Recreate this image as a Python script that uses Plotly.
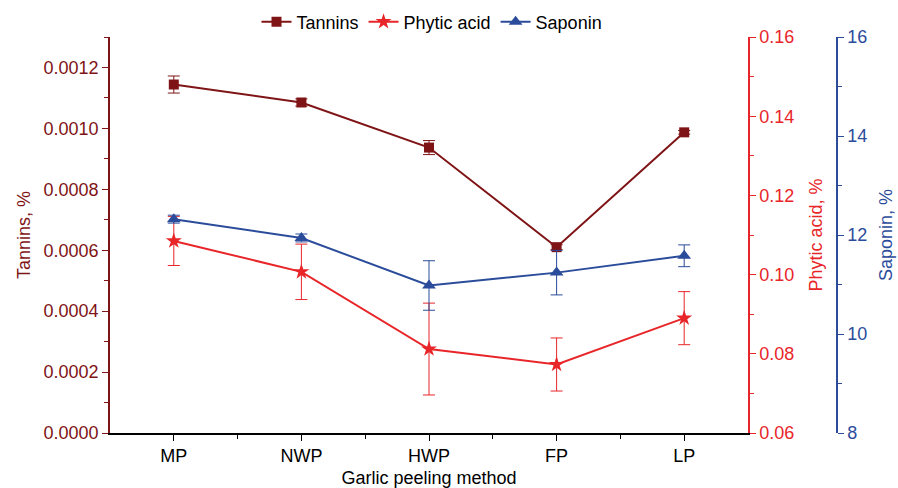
import plotly.graph_objects as go

# Peeling methods and measured contents (mean ± error)
methods = ["MP", "NWP", "HWP", "FP", "LP"]

tannins = [0.001144, 0.001085, 0.000937, 0.000610, 0.000987]
tannins_err = [0.000028, 0.000012, 0.000023, 0.000008, 0.000006]

phytic = [0.1085, 0.1007, 0.0812, 0.0773, 0.0890]
phytic_err = [0.0062, 0.0070, 0.0116, 0.0067, 0.0067]

saponin = [12.32, 11.94, 10.98, 11.24, 11.58]
saponin_err = [0.08, 0.08, 0.50, 0.45, 0.22]

C_TAN = "#7f1416"
C_PHY = "#e8262a"
C_SAP = "#2b4c9b"
FONT = "Liberation Sans, Arial, sans-serif"
FS = 18

x = list(range(len(methods)))

fig = go.Figure()
fig.add_trace(go.Scatter(
    x=x, y=tannins, name="Tannins", mode="lines+markers",
    line=dict(color=C_TAN, width=2),
    marker=dict(symbol="square", size=10, color=C_TAN),
    error_y=dict(type="data", array=tannins_err, color=C_TAN, thickness=1, width=6),
    yaxis="y",
))
fig.add_trace(go.Scatter(
    x=x, y=phytic, name="Phytic acid", mode="lines+markers",
    line=dict(color=C_PHY, width=2),
    marker=dict(symbol="star", size=12, color=C_PHY),
    error_y=dict(type="data", array=phytic_err, color=C_PHY, thickness=1, width=6),
    yaxis="y2",
))
fig.add_trace(go.Scatter(
    x=x, y=saponin, name="Saponin", mode="lines+markers",
    line=dict(color=C_SAP, width=2),
    marker=dict(symbol="triangle-up", size=12, color=C_SAP),
    error_y=dict(type="data", array=saponin_err, color=C_SAP, thickness=1, width=6),
    yaxis="y3",
))

W, H = 898, 488
L, R, T, B = 110, 58, 37, 55
plot_w = W - L - R
x_right = (748 - L) / plot_w
sap_pos = (837 - L) / plot_w

fig.update_layout(
    width=W, height=H,
    margin=dict(l=L, r=R, t=T, b=B, autoexpand=False),
    paper_bgcolor="white", plot_bgcolor="white",
    font=dict(family=FONT, size=FS, color="black"),
    showlegend=True,
    legend=dict(orientation="h", xref="container", yref="container",
                x=432 / W, xanchor="center", y=1 - 22 / H, yanchor="middle",
                font=dict(size=FS, color="black"), bgcolor="rgba(0,0,0,0)",
                tracegroupgap=0),
    xaxis=dict(
        domain=[0, x_right], range=[-0.5, 4.5], automargin=False,
        tickvals=x, ticktext=methods,
        showline=True, linecolor="black", linewidth=1.5,
        ticks="outside", ticklen=6, tickcolor="black",
        minor=dict(tickvals=[0.5, 1.5, 2.5, 3.5], ticks="outside", ticklen=4, tickcolor="black"),
        showgrid=False, zeroline=False,
        tickfont=dict(size=FS, color="black"),
        title=dict(text="Garlic peeling method", font=dict(size=FS, color="black"), standoff=9),
    ),
    yaxis=dict(
        range=[0, 0.0013], tickvals=[0, 0.0002, 0.0004, 0.0006, 0.0008, 0.0010, 0.0012],
        tickformat=".4f", automargin=False,
        showline=True, linecolor=C_TAN, linewidth=1.5,
        ticks="outside", ticklen=6, tickcolor=C_TAN,
        minor=dict(dtick=0.0002, tick0=0.0001, ticks="outside", ticklen=4, tickcolor=C_TAN),
        showgrid=False, zeroline=False,
        tickfont=dict(size=FS, color=C_TAN),
        title=dict(text="Tannins, %", font=dict(size=FS, color=C_TAN), standoff=8),
    ),
    yaxis2=dict(
        overlaying="y", side="right", anchor="x", automargin=False,
        range=[0.06, 0.16], dtick=0.02, tick0=0.06, tickformat=".2f",
        showline=True, linecolor=C_PHY, linewidth=1.5,
        ticks="outside", ticklen=6, tickcolor=C_PHY,
        minor=dict(dtick=0.02, tick0=0.07, ticks="outside", ticklen=4, tickcolor=C_PHY),
        showgrid=False, zeroline=False,
        tickfont=dict(size=FS, color=C_PHY),
        title=dict(text="Phytic acid, %", font=dict(size=FS, color=C_PHY), standoff=16),
    ),
    yaxis3=dict(
        overlaying="y", side="right", anchor="free", position=sap_pos, automargin=False,
        range=[8, 16], dtick=2, tick0=8,
        showline=True, linecolor=C_SAP, linewidth=1.5,
        ticks="outside", ticklen=6, tickcolor=C_SAP,
        minor=dict(dtick=2, tick0=9, ticks="outside", ticklen=4, tickcolor=C_SAP),
        showgrid=False, zeroline=False,
        tickfont=dict(size=FS, color=C_SAP),
        title=dict(text="Saponin, %", font=dict(size=FS, color=C_SAP), standoff=12),
    ),
)

fig.write_html("out.html")
